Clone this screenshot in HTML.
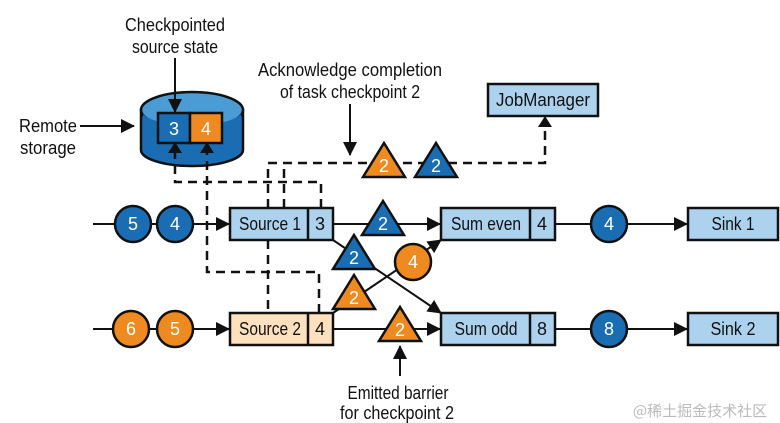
<!DOCTYPE html>
<html><head><meta charset="utf-8"><style>
html,body{margin:0;padding:0;background:#fff;}
svg{display:block;}
text{font-family:"Liberation Sans Narrow","Liberation Sans",sans-serif;font-size:18px;fill:#111;}
.w{fill:#fff;text-anchor:middle;}
.c{text-anchor:middle;}
</style></head><body>
<svg width="780" height="423" viewBox="0 0 780 423" xmlns="http://www.w3.org/2000/svg">
<defs>
<marker id="b" markerWidth="14" markerHeight="14" refX="13" refY="7" orient="auto" markerUnits="userSpaceOnUse"><path d="M0,0 L14,7 L0,14 z" fill="#111"/></marker>
</defs>
<rect width="780" height="423" fill="#fff"/>

<!-- cylinder -->
<path d="M141,110 L141,150 A51,16 0 0 0 243,150 L243,110 Z" fill="#1b6db3" stroke="#111" stroke-width="2.5"/>
<ellipse cx="192" cy="110" rx="51" ry="18" fill="#4b9bd5" stroke="#111" stroke-width="2.5"/>
<path d="M143,114 A51,16 0 0 0 241,114 L241,128 L143,128 Z" fill="#1b6db3" stroke="none"/>
<rect x="158" y="113" width="32" height="30" fill="#1b6db3" stroke="#111" stroke-width="2.5"/>
<rect x="190" y="113" width="32" height="30" fill="#ee8a1f" stroke="#111" stroke-width="2.5"/>
<text x="174" y="135" class="w">3</text><text x="206" y="135" class="w">4</text>

<!-- labels -->
<text x="175" y="31" class="c" textLength="100" lengthAdjust="spacingAndGlyphs">Checkpointed</text>
<text x="175" y="53" class="c" textLength="86" lengthAdjust="spacingAndGlyphs">source state</text>
<line x1="175" y1="58" x2="175" y2="112" stroke="#111" stroke-width="2" marker-end="url(#b)"/>
<text x="48" y="132" class="c" textLength="58" lengthAdjust="spacingAndGlyphs">Remote</text>
<text x="48" y="154" class="c" textLength="56" lengthAdjust="spacingAndGlyphs">storage</text>
<line x1="80" y1="126" x2="134" y2="126" stroke="#111" stroke-width="2" marker-end="url(#b)"/>
<text x="350" y="76" class="c" textLength="184" lengthAdjust="spacingAndGlyphs">Acknowledge completion</text>
<text x="350" y="98" class="c" textLength="140" lengthAdjust="spacingAndGlyphs">of task checkpoint 2</text>
<line x1="350" y1="104" x2="350" y2="155" stroke="#111" stroke-width="2" marker-end="url(#b)"/>
<text x="398" y="399" class="c" textLength="101" lengthAdjust="spacingAndGlyphs">Emitted barrier</text>
<text x="397" y="419" class="c" textLength="114" lengthAdjust="spacingAndGlyphs">for checkpoint 2</text>
<line x1="400" y1="376" x2="400" y2="346" stroke="#111" stroke-width="2" marker-end="url(#b)"/>

<!-- dashed -->
<g fill="none" stroke="#111" stroke-width="2.5" stroke-dasharray="9,6">
<path d="M268,208 L268,163 L545,163 L545,122"/>
<path d="M284,208 L284,163"/>
<path d="M321,208 L321,182 L175,182 L175,150"/>
<path d="M319,313 L319,272 L207,272 L207,150"/>
<path d="M268,240 L268,313"/>
</g>
<path d="M175,142 l-7,11 h14z M207,142 l-7,11 h14z M545,116 l-7,11 h14z" fill="#111"/>

<!-- solid lines -->
<g stroke="#111" stroke-width="2" fill="none">
<line x1="93" y1="224" x2="229" y2="224" marker-end="url(#b)"/>
<line x1="93" y1="329" x2="229" y2="329" marker-end="url(#b)"/>
<line x1="333" y1="224" x2="440" y2="224" marker-end="url(#b)"/>
<line x1="333" y1="329" x2="440" y2="329" marker-end="url(#b)"/>
<line x1="555" y1="224" x2="687" y2="224" marker-end="url(#b)"/>
<line x1="555" y1="329" x2="687" y2="329" marker-end="url(#b)"/>
<line x1="333" y1="240" x2="441" y2="313" marker-end="url(#b)"/>
<line x1="333" y1="313" x2="441" y2="240" marker-end="url(#b)"/>
</g>

<!-- boxes -->
<g stroke="#111" stroke-width="2.5">
<rect x="230" y="208" width="103" height="32" fill="#acd2ee"/><line x1="308" y1="208" x2="308" y2="240"/>
<rect x="230" y="313" width="103" height="32" fill="#fde0bd"/><line x1="308" y1="313" x2="308" y2="345"/>
<rect x="441" y="208" width="114" height="32" fill="#acd2ee"/><line x1="530" y1="208" x2="530" y2="240"/>
<rect x="441" y="313" width="114" height="32" fill="#acd2ee"/><line x1="530" y1="313" x2="530" y2="345"/>
<rect x="688" y="208" width="90" height="32" fill="#acd2ee"/>
<rect x="688" y="313" width="90" height="32" fill="#acd2ee"/>
<rect x="488" y="84" width="110" height="32" fill="#acd2ee"/>
</g>
<text x="270" y="230" class="c" textLength="62" lengthAdjust="spacingAndGlyphs">Source 1</text><text x="320" y="230" class="c">3</text>
<text x="270" y="335" class="c" textLength="62" lengthAdjust="spacingAndGlyphs">Source 2</text><text x="320" y="335" class="c">4</text>
<text x="486" y="230" class="c" textLength="70" lengthAdjust="spacingAndGlyphs">Sum even</text><text x="542" y="230" class="c">4</text>
<text x="486" y="335" class="c" textLength="63" lengthAdjust="spacingAndGlyphs">Sum odd</text><text x="542" y="335" class="c">8</text>
<text x="733" y="230" class="c" textLength="43" lengthAdjust="spacingAndGlyphs">Sink 1</text>
<text x="733" y="335" class="c" textLength="45" lengthAdjust="spacingAndGlyphs">Sink 2</text>
<text x="543" y="106" class="c" textLength="94" lengthAdjust="spacingAndGlyphs">JobManager</text>

<!-- circles -->
<g stroke="#111" stroke-width="2.5">
<circle cx="133" cy="224" r="18" fill="#1b6db3"/>
<circle cx="175" cy="224" r="18" fill="#1b6db3"/>
<circle cx="131" cy="329" r="18" fill="#ee8a1f"/>
<circle cx="175" cy="329" r="18" fill="#ee8a1f"/>
<circle cx="609" cy="224" r="18" fill="#1b6db3"/>
<circle cx="609" cy="329" r="18" fill="#1b6db3"/>
<circle cx="413" cy="262" r="18" fill="#ee8a1f"/>
</g>
<text x="133" y="230" class="w">5</text><text x="175" y="230" class="w">4</text>
<text x="131" y="335" class="w">6</text><text x="175" y="335" class="w">5</text>
<text x="609" y="230" class="w">4</text><text x="609" y="335" class="w">8</text>
<text x="413" y="268" class="w">4</text>

<!-- triangles -->
<g stroke="#111" stroke-width="2.5" stroke-linejoin="miter">
<path d="M384,143 L405,177 L363,177 Z" fill="#ee8a1f"/>
<path d="M436,143 L457,177 L415,177 Z" fill="#1b6db3"/>
<path d="M383,201 L404,235 L362,235 Z" fill="#1b6db3"/>
<path d="M354,235 L375,269 L333,269 Z" fill="#1b6db3"/>
<path d="M354,275 L375,309 L333,309 Z" fill="#ee8a1f"/>
<path d="M400,307 L421,341 L379,341 Z" fill="#ee8a1f"/>
</g>
<text x="384" y="172" class="w">2</text><text x="436" y="172" class="w">2</text>
<text x="383" y="230" class="w">2</text><text x="354" y="264" class="w">2</text>
<text x="354" y="304" class="w">2</text><text x="400" y="336" class="w">2</text>

<text x="700" y="416" style="font-family:'Noto Sans CJK SC',sans-serif;font-size:15px;fill:#bbb;text-anchor:middle;">@稀土掘金技术社区</text>
</svg>
</body></html>
